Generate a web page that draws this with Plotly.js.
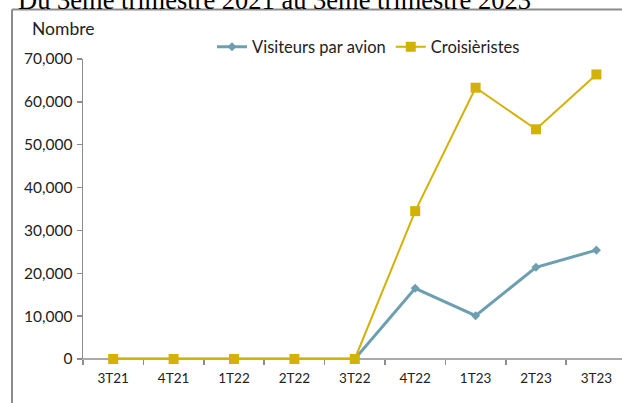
<!DOCTYPE html>
<html>
<head>
<meta charset="utf-8">
<script src="https://cdn.plot.ly/plotly-3.0.1.min.js"></script>
<style>html,body{margin:0;padding:0;background:#fff;overflow:hidden;}#chart{width:622px;height:403px;}</style>
</head>
<body>
<div id="chart"></div>
<script>
const categories = ["3T21","4T21","1T22","2T22","3T22","4T22","1T23","2T23","3T23"];
const visiteursAvion = [0, 0, 0, 0, 0, 16500, 10100, 21400, 25400];
const croisieristes = [0, 0, 0, 0, 0, 34500, 63300, 53600, 66400];
const yTicks = [0, 10000, 20000, 30000, 40000, 50000, 60000, 70000];
const yTickLabels = ["0","10,000","20,000","30,000","40,000","50,000","60,000","70,000"];
const titleText = "Du 3ème trimestre 2021 au 3ème trimestre 2023";
const yLabel = "Nombre";

const W = 622, H = 403;
const L = 83, R = 6, T = 59, B = 44;
const pw = W - L - R, ph = H - T - B;
const px = x => (x - L) / pw;
const py = y => (H - B - y) / ph;
const xEnd = -0.5 + pw / 60.4;

const traces = [
  {x: categories, y: visiteursAvion, name: "Visiteurs par avion", type: "scatter", mode: "lines+markers",
   line: {color: "#6c9fb0", width: 3}, marker: {symbol: "diamond", size: 7, color: "#6c9fb0"}, cliponaxis: false},
  {x: categories, y: croisieristes, name: "Croisièristes", type: "scatter", mode: "lines+markers",
   line: {color: "#d4b106", width: 2}, marker: {symbol: "square", size: 10, color: "#d4b106"}, cliponaxis: false}
];

const layout = {
  width: W, height: H,
  margin: {l: L, r: R, t: T, b: B, pad: 0},
  paper_bgcolor: "#fff", plot_bgcolor: "#fff",
  font: {family: "Lato, sans-serif", size: 13, color: "#222"},
  showlegend: true,
  legend: {orientation: "h", x: px(212), y: py(47), xanchor: "left", yanchor: "middle",
    font: {family: "Lato, sans-serif", size: 16.5, color: "#222"}, bgcolor: "rgba(0,0,0,0)", traceorder: "normal"},
  xaxis: {type: "category", range: [-0.5, xEnd], showgrid: false, zeroline: false,
    showline: false, ticks: "outside", ticklen: 5, tickcolor: "#8c8c8c",
    tickwidth: 1.5, tickson: "boundaries", ticklabelstandoff: 9,
    tickfont: {family: "Lato, sans-serif", size: 13.5, color: "#222"}},
  yaxis: {range: [0, 70000], tickvals: yTicks, ticktext: yTickLabels, showgrid: false, zeroline: false,
    showline: true, linecolor: "#8c8c8c", linewidth: 1.5, ticks: "outside", ticklen: 5, tickcolor: "#8c8c8c",
    tickwidth: 1.5, ticklabelstandoff: 1, tickfont: {family: "Lato, sans-serif", size: 15.5, color: "#222"}},
  shapes: [
    {type: "line", xref: "paper", yref: "paper", x0: px(12), x1: px(12), y0: py(403), y1: py(9.5),
     line: {color: "#8c8c8c", width: 2}, layer: "below"},
    {type: "line", xref: "paper", yref: "paper", x0: px(12), x1: px(622), y0: py(9.5), y1: py(9.5),
     line: {color: "#8c8c8c", width: 2}, layer: "below"},
    {type: "line", xref: "paper", yref: "paper", x0: px(82.3), x1: px(622), y0: 0, y1: 0,
     line: {color: "#8c8c8c", width: 1.5}, layer: "below"}
  ],
  annotations: [
    {text: titleText, xref: "paper", yref: "paper", x: px(16), y: py(17), xanchor: "left", yanchor: "bottom",
     showarrow: false, font: {family: "Liberation Serif, serif", size: 26.5, color: "#000"}},
    {text: yLabel, xref: "paper", yref: "paper", x: px(30), y: py(28), xanchor: "left", yanchor: "middle",
     showarrow: false, font: {family: "Lato, sans-serif", size: 17.5, color: "#222"}}
  ]
};

Plotly.newPlot("chart", traces, layout, {displayModeBar: false, staticPlot: true});
</script>
</body>
</html>
